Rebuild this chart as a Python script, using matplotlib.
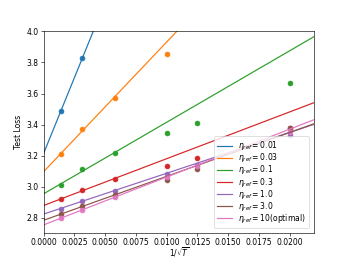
import numpy as np
import matplotlib
matplotlib.use("Agg")
import matplotlib.pyplot as plt

# 1/sqrt(T) values
x_all = [0.00141, 0.00316, 0.00577, 0.0100, 0.0125, 0.0200]

lrs = ["0.01", "0.03", "0.1", "0.3", "1.0", "3.0", "10(optimal)"]

# test loss (None = off the chart)
loss_001 = [3.489, 3.830, None, None, None, None]
loss_003 = [3.208, 3.370, 3.574, 3.852, None, None]
loss_01 = [3.012, 3.111, 3.215, 3.344, 3.413, 3.665]
loss_03 = [2.919, 2.977, 3.051, 3.135, 3.187, 3.375]
loss_1 = [2.859, 2.908, 2.974, 3.079, 3.140, 3.335]
loss_3 = [2.821, 2.876, 2.945, 3.041, 3.111, 3.376]
loss_10 = [2.798, 2.849, 2.932, 3.062, 3.133, 3.352]

losses = [loss_001, loss_003, loss_01, loss_03, loss_1, loss_3, loss_10]

# number of smallest-x points used for the linear fit
nfit = [2, 3, 3, 3, 3, 3, 3]

dpi = 349 / 6.4
fig, ax = plt.subplots(figsize=(6.4, 262 / dpi), dpi=dpi)

xs = np.linspace(0, 0.022, 50)
for i, (lr, y) in enumerate(zip(lrs, losses)):
    c = f"C{i}"
    xp = np.array([a for a, b in zip(x_all, y) if b is not None])
    yp = np.array([b for b in y if b is not None])
    ax.scatter(xp, yp, color=c, s=40)
    k, b = np.polyfit(xp[:nfit[i]], yp[:nfit[i]], 1)
    if lr == "10(optimal)":
        label = r"$\eta_{ref}=$" + "10(optimal)"
    else:
        label = r"$\eta_{ref}=" + lr + "$"
    ax.plot(xs, k * xs + b, color=c, label=label, lw=1.6)

ax.set_xlim(0, 0.022)
ax.set_ylim(2.7, 4.0)
ax.set_xlabel(r"$1/\sqrt{T}$", labelpad=-2.5)
ax.set_ylabel("Test Loss")
ax.legend(loc="lower right", labelspacing=-0.12, borderaxespad=0.7)

fig.savefig("out.png", dpi=dpi)
